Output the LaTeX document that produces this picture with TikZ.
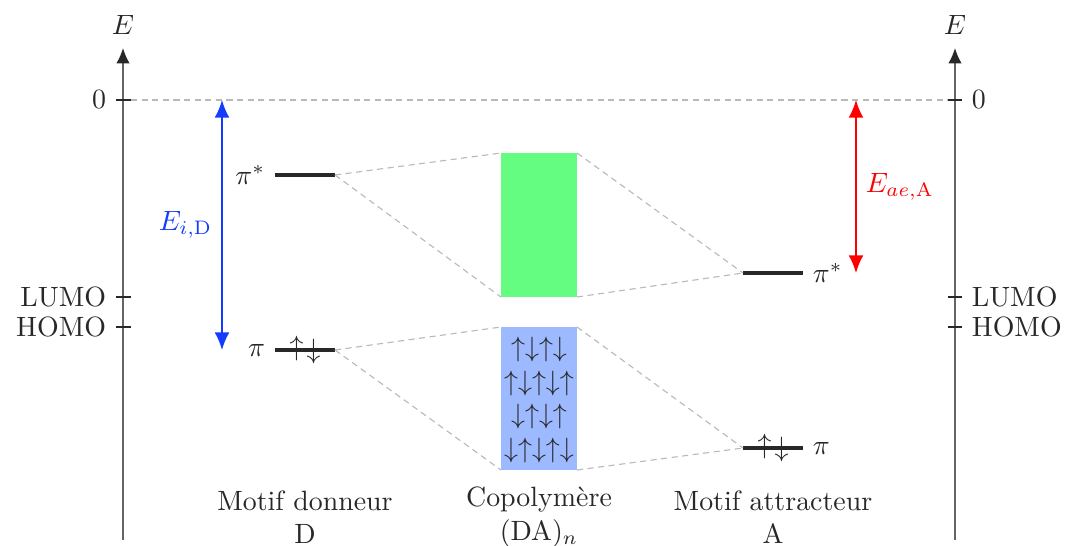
\documentclass[tikz,border=0pt]{standalone}
\usetikzlibrary{arrows.meta}
\definecolor{txt}{RGB}{40,40,40}
\definecolor{axisgray}{RGB}{100,100,100}
\definecolor{dashgray}{RGB}{185,185,185}
\definecolor{bandgreen}{RGB}{100,253,130}
\definecolor{bandblue}{RGB}{157,185,255}
\definecolor{eblue}{RGB}{20,60,255}
\definecolor{ered}{RGB}{255,0,0}
\begin{document}
\begin{tikzpicture}[x=0.3584pt,y=-0.3584pt,
  every node/.style={text=txt},
  axisline/.style={draw=axisgray,line width=0.5pt,-{Latex[length=5.5pt,width=4.8pt,color=txt]}},
  tick/.style={draw=txt,line width=0.5pt},
  guide/.style={draw=dashgray,line width=0.4pt,dash pattern=on 2.2pt off 1.6pt},
  level/.style={draw=txt,line width=1.1pt},
  gap/.style={line width=0.6pt,{Latex[length=6.3pt,width=5.3pt]}-{Latex[length=6.3pt,width=5.3pt]}},
]
\useasboundingbox (0,0) rectangle (1066,545);
% axes
\coordinate (axLb) at (123,540);
\coordinate (axLt) at (123,48);
\coordinate (axRb) at (955,540);
\coordinate (axRt) at (955,48);
\draw[axisline] (axLb) -- (axLt);
\draw[axisline] (axRb) -- (axRt);
\node (EL) at (123,25) {$E$};
\node (ER) at (955,25) {$E$};
% ticks
\foreach \n/\yy/\lab in {z/100/0,l/297/LUMO,h/327/HOMO}{
  \coordinate (tL\n a) at (116,\yy); \coordinate (tL\n b) at (131,\yy);
  \coordinate (tR\n a) at (948,\yy); \coordinate (tR\n b) at (962,\yy);
  \draw[tick] (tL\n a) -- (tL\n b);
  \draw[tick] (tR\n a) -- (tR\n b);
  \node[anchor=east] (labL\n) at (tL\n a) {\lab};
  \node[anchor=west] (labR\n) at (tR\n b) {\lab};
}
% zero line
\draw[guide] (tLzb) -- (tRza);
% donor levels
\coordinate (dPsA) at (275,175); \coordinate (dPsB) at (335,175);
\coordinate (dPA) at (275,350); \coordinate (dPB) at (335,350);
\draw[level] (dPsA) -- (dPsB);
\draw[level] (dPA) -- (dPB);
\node[anchor=east] (dPsL) at (dPsA) {$\pi^*$};
\node[anchor=east] (dPL) at (dPA) {$\pi$};
\node[inner sep=0pt] (dSpin) at (305,350) {$\uparrow\mkern-3mu\raisebox{-1.2pt}{$\downarrow$}$};
% acceptor levels
\coordinate (aPsA) at (743,273); \coordinate (aPsB) at (803,273);
\coordinate (aPA) at (743,448); \coordinate (aPB) at (803,448);
\draw[level] (aPsA) -- (aPsB);
\draw[level] (aPA) -- (aPB);
\node[anchor=west] (aPsL) at (aPsB) {$\pi^*$};
\node[anchor=west] (aPL) at (aPB) {$\pi$};
\node[inner sep=0pt] (aSpin) at (773,448) {$\uparrow\mkern-3mu\raisebox{-1.2pt}{$\downarrow$}$};
% bands
\fill[bandgreen] (501,153) rectangle (577,297);
\fill[bandblue] (501,327) rectangle (577,470);
\coordinate (gTL) at (501,153); \coordinate (gBL) at (501,297);
\coordinate (gTR) at (577,153); \coordinate (gBR) at (577,297);
\coordinate (bTL) at (501,327); \coordinate (bBL) at (501,470);
\coordinate (bTR) at (577,327); \coordinate (bBR) at (577,470);
\node[align=center,inner sep=0pt,text=txt] (spins) at (539,400)
  {$\uparrow\downarrow\uparrow\downarrow$\\[0pt]
   $\uparrow\downarrow\uparrow\downarrow\uparrow$\\[0pt]
   $\downarrow\uparrow\downarrow\uparrow$\\[0pt]
   $\downarrow\uparrow\downarrow\uparrow\downarrow$};
% correlation lines
\draw[guide] (dPsB) -- (gTL);
\draw[guide] (dPsB) -- (gBL);
\draw[guide] (gTR) -- (aPsA);
\draw[guide] (gBR) -- (aPsA);
\draw[guide] (dPB) -- (bTL);
\draw[guide] (dPB) -- (bBL);
\draw[guide] (bTR) -- (aPA);
\draw[guide] (bBR) -- (aPA);
% energy arrows
\coordinate (bA) at (222,100); \coordinate (bB) at (222,350);
\draw[gap,draw=eblue,fill=eblue] (bA) -- (bB);
\node[anchor=east,text=eblue] (EiD) at (222,225) {$E_{i,\mathrm{D}}$};
\coordinate (rA) at (856,100); \coordinate (rB) at (856,273);
\draw[gap,draw=ered,fill=ered] (rA) -- (rB);
\node[anchor=west,text=ered] (EaeA) at (856,187) {$E_{ae,\mathrm{A}}$};
% captions
\node[align=center] (capD) at (305,517) {Motif donneur\\D};
\node[align=center] (capC) at (539,517) {Copolym\`ere\\(DA)$_n$};
\node[align=center] (capA) at (773,517) {Motif attracteur\\A};
\end{tikzpicture}
\end{document}
